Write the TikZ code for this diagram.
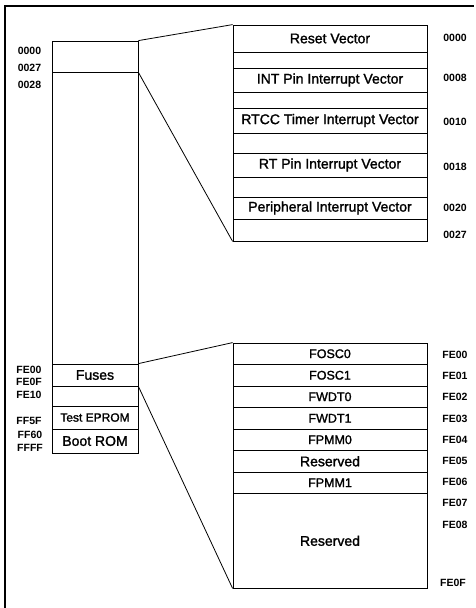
\documentclass[tikz,border=0pt]{standalone}
\usepackage{fontspec}
\setmainfont{Liberation Sans}
\newfontfamily\medfont{Liberation Sans}[FakeBold=1.5]
\usetikzlibrary{positioning}
\tikzset{
  cell/.style={rectangle, draw=black, line width=0.8pt, inner sep=0pt,
    minimum width=194pt, align=center, font=\medfont\fontsize{14}{16}\selectfont},
  fusecell/.style={cell, minimum height=21.5pt, font=\medfont\fontsize{12.5}{14}\selectfont},
  memcell/.style={rectangle, draw=black, line width=0.8pt, inner sep=0pt,
    minimum width=86pt, align=center, font=\medfont\fontsize{14}{16}\selectfont},
  addr/.style={inner sep=0pt, font=\bfseries\fontsize{10.5}{12}\selectfont},
  link/.style={line width=0.8pt},
}
\begin{document}
\begin{tikzpicture}[x=1pt,y=-1pt]
  \useasboundingbox (0,0) rectangle (476,608);
  % page frame (only top and left edges survive)
  \draw[line width=1.6pt] (5,608) -- (5,6) -- (474,6);

  % full memory map on the left
  \node[memcell, minimum height=31pt] (vec) at (95,56.5) {};
  \node[memcell, minimum height=292pt] (prog) at (95,218) {};
  \node[memcell, minimum height=22pt] (fuses) at (95,375) {Fuses};
  \node[memcell, minimum height=20pt] (gap) at (95,396) {};
  \node[memcell, minimum height=23pt, font=\medfont\fontsize{12}{14}\selectfont] (test) at (95,417.5) {Test EPROM};
  \node[memcell, minimum height=24pt] (boot) at (95,441) {Boot ROM};

  \node[addr] (a0000) at (29.5,51) {0000};
  \node[addr] (a0027) at (29.5,68) {0027};
  \node[addr] (a0028) at (29.5,85) {0028};
  \node[addr] (aFE00) at (29,370) {FE00};
  \node[addr] (aFE0F) at (29,382) {FE0F};
  \node[addr] (aFE10) at (29,395) {FE10};
  \node[addr] (aFF5F) at (29,421) {FF5F};
  \node[addr] (aFF60) at (30,435) {FF60};
  \node[addr] (aFFFF) at (30,448) {FFFF};

  % interrupt vector area, expanded
  \node[cell, minimum height=27pt] (reset) at (330,38.5) {Reset Vector};
  \node[cell, minimum height=16pt] (gapA) at (330,60) {};
  \node[cell, minimum height=24pt] (intpin) at (330,80) {INT Pin Interrupt Vector};
  \node[cell, minimum height=16pt] (gapB) at (330,100) {};
  \node[cell, minimum height=25pt] (rtcc) at (330,120.5) {RTCC Timer Interrupt Vector};
  \node[cell, minimum height=20pt] (gapC) at (330,143) {};
  \node[cell, minimum height=24pt] (rtpin) at (330,165) {RT Pin Interrupt Vector};
  \node[cell, minimum height=20pt] (gapD) at (330,187) {};
  \node[cell, minimum height=22pt] (periph) at (330,208) {Peripheral Interrupt Vector};
  \node[cell, minimum height=22pt] (gapE) at (330,230) {};

  \node[addr] (v0000) at (455,38) {0000};
  \node[addr] (v0008) at (455,78) {0008};
  \node[addr] (v0010) at (455,122) {0010};
  \node[addr] (v0018) at (455,167) {0018};
  \node[addr] (v0020) at (455,208) {0020};
  \node[addr] (v0027) at (455,235) {0027};

  \draw[link] (vec.north east) -- (reset.north west);
  \draw[link] (vec.south east) -- (gapE.south west);

  % fuse area, expanded
  \node[fusecell] (fosc0) at (330,353.75) {FOSC0};
  \node[fusecell] (fosc1) at (330,375.25) {FOSC1};
  \node[fusecell] (fwdt0) at (330,396.75) {FWDT0};
  \node[fusecell] (fwdt1) at (330,418.25) {FWDT1};
  \node[fusecell] (fpmm0) at (330,439.75) {FPMM0};
  \node[fusecell, font=\medfont\fontsize{14}{16}\selectfont] (resA) at (330,461.25) {Reserved};
  \node[fusecell] (fpmm1) at (330,482.75) {FPMM1};
  \node[cell, minimum height=94.5pt] (resB) at (330,540.75) {Reserved};

  \node[addr] (fFE00) at (455,355) {FE00};
  \node[addr] (fFE01) at (455,376) {FE01};
  \node[addr] (fFE02) at (455,397) {FE02};
  \node[addr] (fFE03) at (455,419) {FE03};
  \node[addr] (fFE04) at (455,440) {FE04};
  \node[addr] (fFE05) at (455,461) {FE05};
  \node[addr] (fFE06) at (455,482) {FE06};
  \node[addr] (fFE07) at (455,503) {FE07};
  \node[addr] (fFE08) at (455,525) {FE08};
  \node[addr] (fFE0F) at (453,583) {FE0F};

  \draw[link] (fuses.north east) -- (fosc0.north west);
  \draw[link] (fuses.south east) -- (resB.south west);
\end{tikzpicture}
\end{document}
